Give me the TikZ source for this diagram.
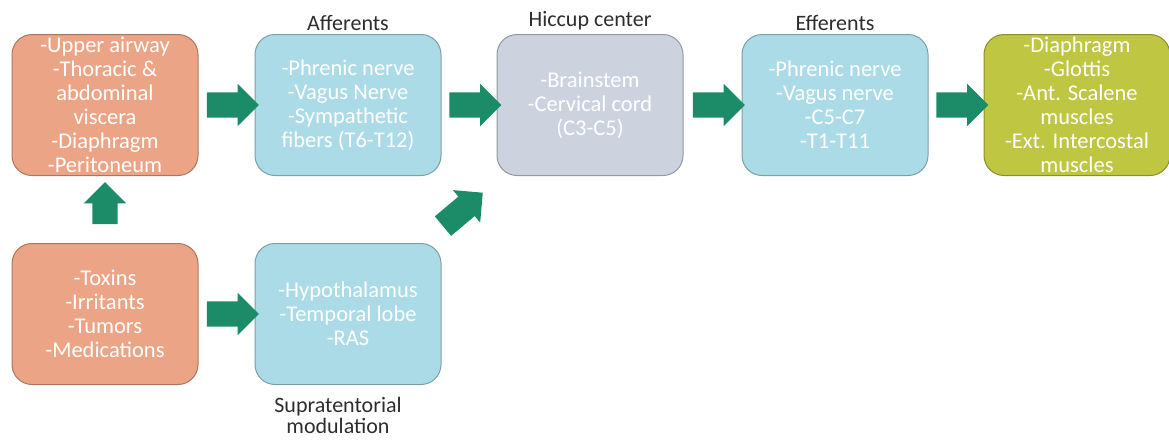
\documentclass[tikz,border=0pt]{standalone}
\usepackage{fontspec}
\setmainfont{Carlito}
\usetikzlibrary{shapes.arrows, positioning, calc}
\definecolor{triggerorange}{RGB}{236,164,134}
\definecolor{pathblue}{RGB}{172,219,232}
\definecolor{centergray}{RGB}{204,211,223}
\definecolor{muscleolive}{RGB}{190,198,66}
\definecolor{arrowgreen}{RGB}{28,140,104}
\definecolor{captiongray}{RGB}{45,45,45}

\begin{document}
\begin{tikzpicture}[x=1pt, y=1pt,
    box/.style={draw=#1!72!black, fill=#1, line width=1pt, rounded corners=20pt,
                minimum width=186pt, minimum height=141pt, inner sep=2pt,
                text=white, align=center, font=\fontsize{22.5}{24}\selectfont},
    flow/.style={single arrow, fill=arrowgreen, draw=none, inner xsep=0pt, inner ysep=12.5pt,
                 minimum height=52pt,
                 single arrow head extend=8.5pt, single arrow head indent=0pt},
    caption/.style={text=captiongray, align=center, font=\fontsize{22}{21}\selectfont},
    node distance=56pt]
    \useasboundingbox (0,0) rectangle (1169,-440);

    % Top row
    \node[box=triggerorange] (trig) at (105,-105)
        {-Upper airway\\-Thoracic \&\\abdominal\\viscera\\-Diaphragm\\-Peritoneum};
    \node[box=pathblue, right=of trig] (aff)
        {-Phrenic nerve\\-Vagus Nerve\\-Sympathetic\\fibers (T6-T12)};
    \node[box=centergray, right=55pt of aff] (hic)
        {-Brainstem\\-Cervical cord\\(C3-C5)};
    \node[box=pathblue, right=58pt of hic] (eff)
        {-Phrenic nerve\\-Vagus nerve\\-C5-C7\\-T1-T11};
    \node[box=muscleolive, right=55pt of eff] (musc)
        {-Diaphragm\\-Glottis\\-Ant. Scalene\\muscles\\-Ext. Intercostal\\muscles};

    % Bottom row
    \node[box=triggerorange, below=67pt of trig] (irr)
        {-Toxins\\-Irritants\\-Tumors\\-Medications};
    \node[box=pathblue, right=of irr] (supra)
        {-Hypothalamus\\-Temporal lobe\\-RAS};

    % Captions
    \node[caption, above=0pt of aff] (affcap) {Afferents};
    \node[caption, above=0pt of hic] (hiccap) {Hiccup center};
    \node[caption, above=0pt of eff] (effcap) {Efferents};
    \node[caption, below=9pt of supra, xshift=-10pt] (supracap) {Supratentorial\\modulation};

    % Block arrows
    \node[flow] (a1) at ($(trig.east)!0.5!(aff.west)$) {};
    \node[flow] (a2) at ($(aff.east)!0.5!(hic.west)$) {};
    \node[flow] (a3) at ($(hic.east)!0.5!(eff.west)$) {};
    \node[flow] (a4) at ($(eff.east)!0.5!(musc.west)$) {};
    \node[flow] (a5) at ($(irr.east)!0.5!(supra.west)$) {};
    \node[flow, rotate=90, minimum height=42pt] (a6) at ($(irr.north)!0.5!(trig.south)$) {};
    \node[flow, rotate=40] (a7) at ($(supra.north east)!0.5!(hic.south west)+(-11,-4)$) {};
\end{tikzpicture}
\end{document}
